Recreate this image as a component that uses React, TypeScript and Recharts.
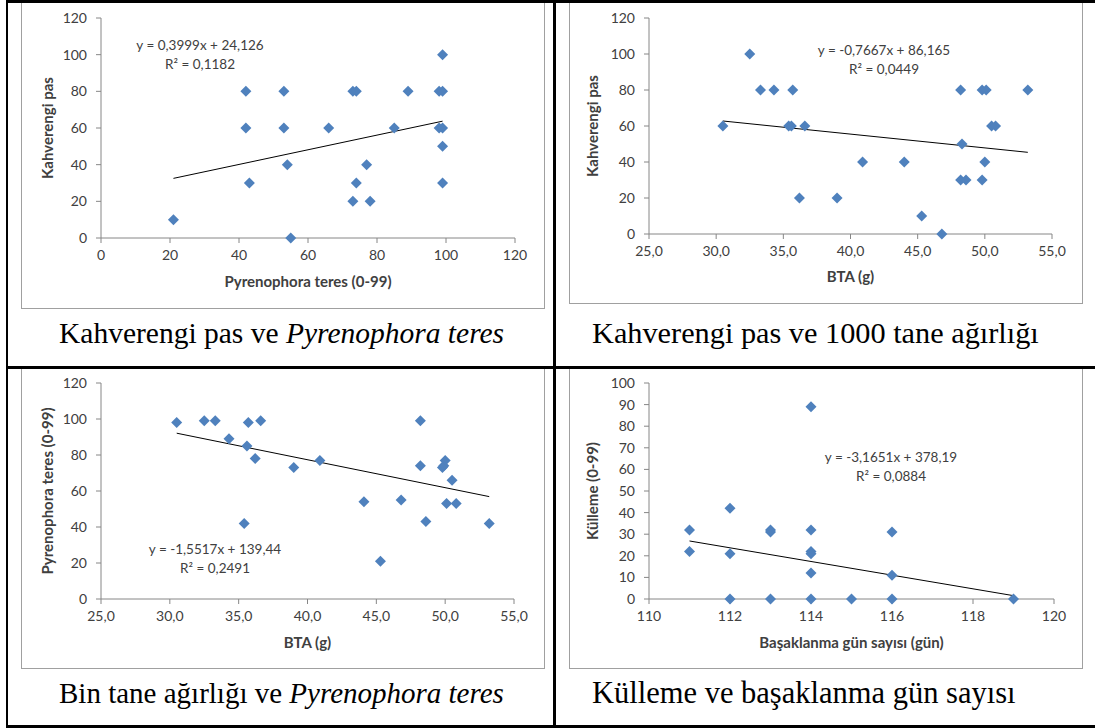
import { ScatterChart, Scatter, XAxis, YAxis, ReferenceLine } from 'recharts';

// Kahverengi pas ve Pyrenophora teres
const ptScoreA = [21, 42, 42, 43, 53, 53, 54, 55, 66, 73, 74, 73, 74, 77, 78, 85, 89, 98, 99, 99, 98, 99, 99, 99];
const brownRustA = [10, 80, 60, 30, 80, 60, 40, 0, 60, 80, 80, 20, 30, 40, 20, 60, 80, 80, 80, 100, 60, 60, 50, 30];

// Kahverengi pas ve 1000 tane ağırlığı
const btaB = [30.5, 32.5, 33.3, 34.3, 35.4, 35.6, 35.7, 36.2, 36.6, 39.0, 40.9, 44.0, 45.3, 46.8, 48.2, 48.3, 48.2, 48.6, 49.8, 49.8, 50.1, 50.0, 50.5, 50.8, 53.2];
const brownRustB = [60, 100, 80, 80, 60, 60, 80, 20, 60, 20, 40, 40, 10, 0, 80, 50, 30, 30, 30, 80, 80, 40, 60, 60, 80];

// Bin tane ağırlığı ve Pyrenophora teres
const btaC = [30.5, 32.5, 33.3, 34.3, 35.6, 35.7, 35.4, 36.2, 36.6, 39.0, 40.9, 44.1, 45.3, 46.8, 48.2, 48.2, 48.6, 49.8, 49.9, 50.0, 50.1, 50.5, 50.8, 53.2];
const ptScoreC = [98, 99, 99, 89, 85, 98, 42, 78, 99, 73, 77, 54, 21, 55, 99, 74, 43, 73, 74, 77, 53, 66, 53, 42];

// Külleme ve başaklanma gün sayısı
const headingDaysD = [111, 111, 112, 112, 112, 113, 113, 113, 114, 114, 114, 114, 114, 114, 115, 116, 116, 116, 119];
const mildewD = [32, 22, 42, 21, 0, 31, 32, 0, 89, 32, 22, 21, 12, 0, 0, 31, 11, 0, 0];

// trend line coefficients (slope, intercept) as printed
const trendA = [0.3999, 24.126];
const trendB = [-0.7667, 86.165];
const trendC = [-1.5517, 139.44];
const trendD = [-3.1651, 378.19];

const ticks0to120 = [0, 20, 40, 60, 80, 100, 120];
const ticksBta = [25, 30, 35, 40, 45, 50, 55];
const ticksDays = [110, 112, 114, 116, 118, 120];
const ticks0to100 = [0, 10, 20, 30, 40, 50, 60, 70, 80, 90, 100];

const FONT = 'Lato, "Open Sans", sans-serif';
const AXIS = '#868686';
const TEXT = '#404040';
const BLUE = '#4F81BD';

const zip = (xs: number[], ys: number[]) => xs.map((x, i) => ({ x, y: ys[i] }));

const Diamond = (props: any) => {
  const { cx, cy } = props;
  if (cx == null || cy == null) return null;
  const r = 5.5;
  return <path d={`M${cx},${cy - r}L${cx + r},${cy}L${cx},${cy + r}L${cx - r},${cy}Z`} fill={BLUE} />;
};

const comma1 = (v: number) => v.toFixed(1).replace('.', ',');

interface PanelProps {
  left: number;
  top: number;
  width: number;
  height: number;
  margin: { top: number; right: number; left: number; bottom: number };
  yWidth: number;
  xHeight: number;
  xs: number[];
  ys: number[];
  trend: number[];
  xDomain: [number, number];
  yDomain: [number, number];
  xTicks: number[];
  yTicks: number[];
  xFormat?: (v: number) => string;
  xTitle: string;
  yTitle: string;
}

function Panel(p: PanelProps) {
  const data = zip(p.xs, p.ys);
  const x0 = Math.min(...p.xs);
  const x1 = Math.max(...p.xs);
  const [m, b] = p.trend;
  const tick = { fill: TEXT, fontSize: 14, fontFamily: FONT };
  return (
    <div style={{ position: 'absolute', left: p.left, top: p.top }}>
      <ScatterChart width={p.width} height={p.height} margin={p.margin}>
        <XAxis
          type="number"
          dataKey="x"
          domain={p.xDomain}
          ticks={p.xTicks}
          tickFormatter={p.xFormat}
          height={p.xHeight}
          stroke={AXIS}
          tick={tick}
          tickSize={5}
          tickMargin={7}
          label={{ value: p.xTitle, position: 'insideBottom', offset: 5, fill: TEXT, fontSize: 15, fontWeight: 700, fontFamily: FONT }}
        />
        <YAxis
          type="number"
          dataKey="y"
          domain={p.yDomain}
          ticks={p.yTicks}
          width={p.yWidth}
          stroke={AXIS}
          tick={tick}
          tickSize={5}
          tickMargin={9}
          label={{ value: p.yTitle, angle: -90, position: 'insideLeft', offset: 5, fill: TEXT, fontSize: 15, fontWeight: 700, fontFamily: FONT, style: { textAnchor: 'middle' } }}
        />
        <Scatter data={data} shape={Diamond} isAnimationActive={false} />
        <ReferenceLine
          segment={[{ x: x0, y: m * x0 + b }, { x: x1, y: m * x1 + b }]}
          stroke="#000"
          strokeWidth={1}
          ifOverflow="visible"
        />
      </ScatterChart>
    </div>
  );
}

function Equation({ cx, y, eq, r2 }: { cx: number; y: number; eq: string; r2: string }) {
  return (
    <div style={{ position: 'absolute', left: cx - 110, top: y - 9.5, width: 220, textAlign: 'center', fontFamily: FONT, fontSize: 13.5, lineHeight: '19px', color: TEXT, whiteSpace: 'nowrap' }}>
      <div>{eq}</div>
      <div>{r2}</div>
    </div>
  );
}

const frame = (left: number, top: number, width: number, height: number) => (
  <div style={{ position: 'absolute', left, top, width: width - 1, height: height - 1, border: '1px solid #a0a0a0' }} />
);

const captionStyle: React.CSSProperties = {
  position: 'absolute',
  fontFamily: '"Liberation Serif", "Times New Roman", serif',
  fontSize: 30,
  lineHeight: '30px',
  color: '#000',
  whiteSpace: 'nowrap',
};

export default function App() {
  return (
    <div style={{ position: 'absolute', left: 0, top: 0, width: 1095, height: 728, background: '#fff', overflow: 'hidden' }}>
      {frame(21, 0, 523, 308)}
      {frame(569, 0, 513, 303)}
      {frame(21, 368, 523, 300)}
      {frame(569, 368, 513, 300)}

      <Panel
        left={21} top={0} width={523} height={308}
        margin={{ top: 18, right: 29, left: 22, bottom: 16 }} yWidth={58} xHeight={54}
        xs={ptScoreA} ys={brownRustA} trend={trendA}
        xDomain={[0, 120]} yDomain={[0, 120]} xTicks={ticks0to120} yTicks={ticks0to120}
        xTitle="Pyrenophora teres  (0-99)" yTitle="Kahverengi pas"
      />
      <Panel
        left={569} top={0} width={513} height={303}
        margin={{ top: 18, right: 30, left: 19, bottom: 16 }} yWidth={61} xHeight={53}
        xs={btaB} ys={brownRustB} trend={trendB}
        xDomain={[25, 55]} yDomain={[0, 120]} xTicks={ticksBta} yTicks={ticks0to120} xFormat={comma1}
        xTitle="BTA (g)" yTitle="Kahverengi pas"
      />
      <Panel
        left={21} top={368} width={523} height={300}
        margin={{ top: 15, right: 30, left: 22, bottom: 15 }} yWidth={58} xHeight={54}
        xs={btaC} ys={ptScoreC} trend={trendC}
        xDomain={[25, 55]} yDomain={[0, 120]} xTicks={ticksBta} yTicks={ticks0to120} xFormat={comma1}
        xTitle="BTA (g)" yTitle="Pyrenophora teres (0-99)"
      />
      <Panel
        left={569} top={368} width={513} height={300}
        margin={{ top: 15, right: 28, left: 19, bottom: 15 }} yWidth={61} xHeight={54}
        xs={headingDaysD} ys={mildewD} trend={trendD}
        xDomain={[110, 120]} yDomain={[0, 100]} xTicks={ticksDays} yTicks={ticks0to100}
        xTitle="Başaklanma gün sayısı (gün)" yTitle="Külleme (0-99)"
      />

      <Equation cx={200} y={45} eq="y = 0,3999x + 24,126" r2="R² = 0,1182" />
      <Equation cx={884} y={50} eq="y = -0,7667x + 86,165" r2="R² = 0,0449" />
      <Equation cx={215} y={549} eq="y = -1,5517x + 139,44" r2="R² = 0,2491" />
      <Equation cx={891} y={457} eq="y = -3,1651x + 378,19" r2="R² = 0,0884" />

      <div style={{ ...captionStyle, fontSize: 29.5, left: 59, top: 318 }}>Kahverengi pas ve <i>Pyrenophora teres</i></div>
      <div style={{ ...captionStyle, fontSize: 30.3, left: 592, top: 318 }}>Kahverengi pas ve 1000 tane ağırlığı</div>
      <div style={{ ...captionStyle, fontSize: 29, left: 59, top: 678 }}>Bin tane ağırlığı ve <i>Pyrenophora teres</i></div>
      <div style={{ ...captionStyle, fontSize: 30.5, left: 592, top: 678 }}>Külleme ve başaklanma gün sayısı</div>

      {/* table lines */}
      <div style={{ position: 'absolute', left: 6, top: 0, width: 1089, height: 3, background: '#000' }} />
      <div style={{ position: 'absolute', left: 6, top: 0, width: 2, height: 728, background: '#000' }} />
      <div style={{ position: 'absolute', left: 553, top: 0, width: 3, height: 728, background: '#000' }} />
      <div style={{ position: 'absolute', left: 6, top: 366, width: 1089, height: 3, background: '#000' }} />
      <div style={{ position: 'absolute', left: 6, top: 725, width: 1089, height: 3, background: '#000' }} />
    </div>
  );
}
